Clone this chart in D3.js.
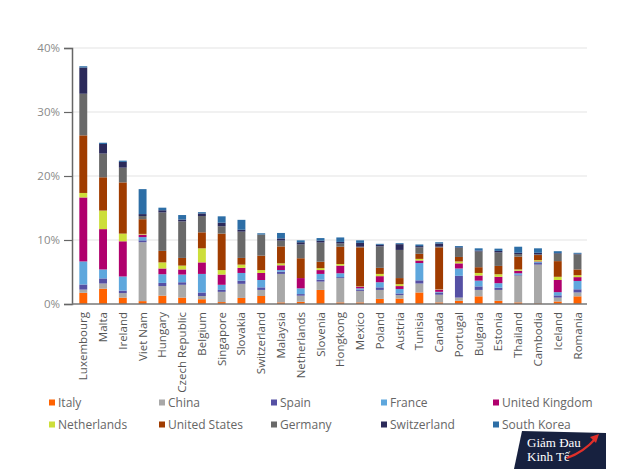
<!DOCTYPE html>
<html><head><meta charset="utf-8">
<script src="https://cdn.jsdelivr.net/npm/d3@7"></script>
<style>body{margin:0;background:#fff}svg{display:block}</style>
</head><body>
<script>
const categories = ["Luxembourg","Malta","Ireland","Viet Nam","Hungary","Czech Republic","Belgium","Singapore","Slovakia","Switzerland","Malaysia","Netherlands","Slovenia","Hongkong","Mexico","Poland","Austria","Tunisia","Canada","Portugal","Bulgaria","Estonia","Thailand","Cambodia","Iceland","Romania"];
const seriesNames = ["Italy","China","Spain","France","United Kingdom","Netherlands","United States","Germany","Switzerland","South Korea"];
const italy       = [1.75,2.4,1.0,0.45,1.3,1.0,0.75,0.3,0.95,1.25,0.25,0.35,2.2,0.25,0.25,0.8,0.85,1.8,0.25,0.5,1.2,0.5,0.25,0.1,0.4,1.2];
const china       = [0.5,0.8,0.7,9.2,1.5,2.0,0.5,1.6,2.2,0.95,4.45,0.95,1.3,3.8,1.8,1.4,0.55,1.4,1.2,0.5,1.0,1.7,4.2,6.05,0.6,0.6];
const spain       = [0.8,0.8,0.4,0.3,0.5,0.4,0.55,0.3,0.5,0.4,0.35,0.25,0.3,0.15,0.2,0.4,0.25,0.5,0.35,3.4,0.55,0.35,0.1,0.25,0.35,0.5];
const france      = [3.6,1.4,2.2,0.5,1.35,1.2,2.9,0.8,1.2,1.15,0.25,0.9,0.9,0.6,0.2,0.8,0.7,2.7,0.1,1.15,0.9,0.7,0.25,0.15,0.5,1.3];
const uk          = [10.0,6.3,5.5,0.4,0.9,0.8,1.8,1.6,0.8,1.1,0.75,1.6,0.6,1.2,0.25,0.95,0.45,0.4,0.35,0.8,0.8,1.0,0.4,0.1,1.9,0.6];
const netherlands = [0.7,2.9,1.2,0.1,0.95,0.6,2.2,0.7,0.5,0.45,0.3,0.0,0.3,0.25,0.05,0.35,0.3,0.25,0.05,0.3,0.4,0.4,0.2,0.2,0.5,0.3];
const us          = [9.0,5.2,8.0,2.3,1.8,1.2,2.5,5.7,1.05,2.25,2.65,3.1,1.0,2.7,6.1,0.95,0.95,0.8,6.55,0.7,0.9,1.3,2.0,0.8,2.45,0.9];
const germany     = [6.5,3.7,2.3,0.5,6.0,5.7,2.55,1.15,4.1,3.3,0.9,2.15,3.0,0.5,0.1,3.35,4.4,1.0,0.1,1.4,2.45,2.1,0.4,0.1,1.15,2.35];
const switzerland = [4.1,1.5,0.9,0.3,0.35,0.3,0.4,0.55,0.3,0.0,0.35,0.35,0.3,0.25,0.6,0.25,0.9,0.2,0.5,0.1,0.15,0.25,0.2,0.25,0.1,0.1];
const southKorea  = [0.2,0.2,0.2,3.9,0.4,0.7,0.2,1.0,1.55,0.2,0.85,0.3,0.4,0.7,0.4,0.15,0.15,0.25,0.2,0.2,0.35,0.35,0.95,0.7,0.3,0.15];
const seriesValues = [italy,china,spain,france,uk,netherlands,us,germany,switzerland,southKorea];
const yTicks = [0,10,20,30,40];
const colors = ["#ff6200","#a8a8a8","#5550a4","#5ea7dd","#b0006d","#cdde3a","#a03c00","#696969","#2b2a5a","#2d6ea6"];

const W = 630, H = 470;
const svg = d3.select("body").append("svg").attr("width", W).attr("height", H);
const font = "'Open Sans', 'DejaVu Sans', sans-serif";

const x = d3.scaleBand().domain(categories).range([73.4, 587.4]).paddingInner(0.6).paddingOuter(0.3);
const y = d3.scaleLinear().domain([0, 40]).range([304, 48]);

// gridlines
svg.append("g").selectAll("line").data(yTicks.slice(1)).join("line")
  .attr("x1", 72).attr("x2", 587).attr("y1", d => y(d)).attr("y2", d => y(d))
  .attr("stroke", "#e3e3e3").attr("stroke-width", 1);

// stack
const rows = categories.map((c, i) => {
  const o = {cat: c};
  seriesNames.forEach((s, j) => o[s] = seriesValues[j][i]);
  return o;
});
const stacked = d3.stack().keys(seriesNames)(rows);
svg.append("g").selectAll("g").data(stacked).join("g")
  .attr("fill", (d, i) => colors[i])
  .selectAll("rect").data(d => d).join("rect")
  .attr("x", d => x(d.data.cat)).attr("width", x.bandwidth())
  .attr("y", d => y(d[1])).attr("height", d => Math.max(0, y(d[0]) - y(d[1])));

// y axis
const yAxis = d3.axisLeft(y).tickValues(yTicks).tickFormat(d => d + "%").tickSize(8).tickPadding(4);
const gy = svg.append("g").attr("transform", "translate(72,0)").call(yAxis);
gy.select(".domain").attr("stroke", "#666").attr("stroke-width", 1.5);
gy.selectAll(".tick line").attr("stroke", "#666").attr("stroke-width", 1.2);
gy.selectAll(".tick text").attr("fill", "#8a8a8a").style("font-family", font).style("font-size", "11.5px");

// x axis
const xAxis = d3.axisBottom(x).tickSize(0).tickPadding(0);
const gx = svg.append("g").attr("transform", "translate(0,304)").call(xAxis);
gx.select(".domain").attr("stroke", "#777").attr("stroke-width", 1.5).attr("d", "M72,0H587");
gx.selectAll(".tick text")
  .attr("transform", "rotate(-90)")
  .attr("text-anchor", "end").attr("x", -8).attr("y", 0).attr("dy", "0.35em")
  .attr("fill", "#555").style("font-family", font).style("font-size", "11.5px");

// legend
const legX = [49, 159, 271, 381, 493];
const legY = [403, 425];
seriesNames.forEach((s, i) => {
  const col = i % 5, row = Math.floor(i / 5);
  const g = svg.append("g").attr("transform", `translate(${legX[col]},${legY[row]})`);
  g.append("rect").attr("x", 0).attr("y", -3.5).attr("width", 6).attr("height", 6).attr("fill", colors[i]);
  g.append("text").attr("x", 9).attr("y", 0).attr("dy", "0.35em").text(s)
    .attr("fill", "#666").style("font-family", font).style("font-size", "12px");
});

// watermark logo
const logo = svg.append("g");
logo.append("path").attr("d", "M522,431 L606,433 L606,469 L514,469 Z").attr("fill", "#17213f");
logo.append("text").attr("x", 527).attr("y", 447).text("Giảm Đau").attr("fill", "#fff")
  .style("font-family", "'Liberation Serif', serif").style("font-size", "13px");
logo.append("text").attr("x", 527).attr("y", 461).text("Kinh Tế").attr("fill", "#fff")
  .style("font-family", "'Liberation Serif', serif").style("font-size", "13px");
logo.append("path").attr("d", "M567,458 Q584,452 596,438").attr("stroke", "#e0302a").attr("stroke-width", 2.2).attr("fill", "none");
logo.append("path").attr("d", "M599,434 L590,437 L596,443 Z").attr("fill", "#e0302a");
</script>
</body></html>
